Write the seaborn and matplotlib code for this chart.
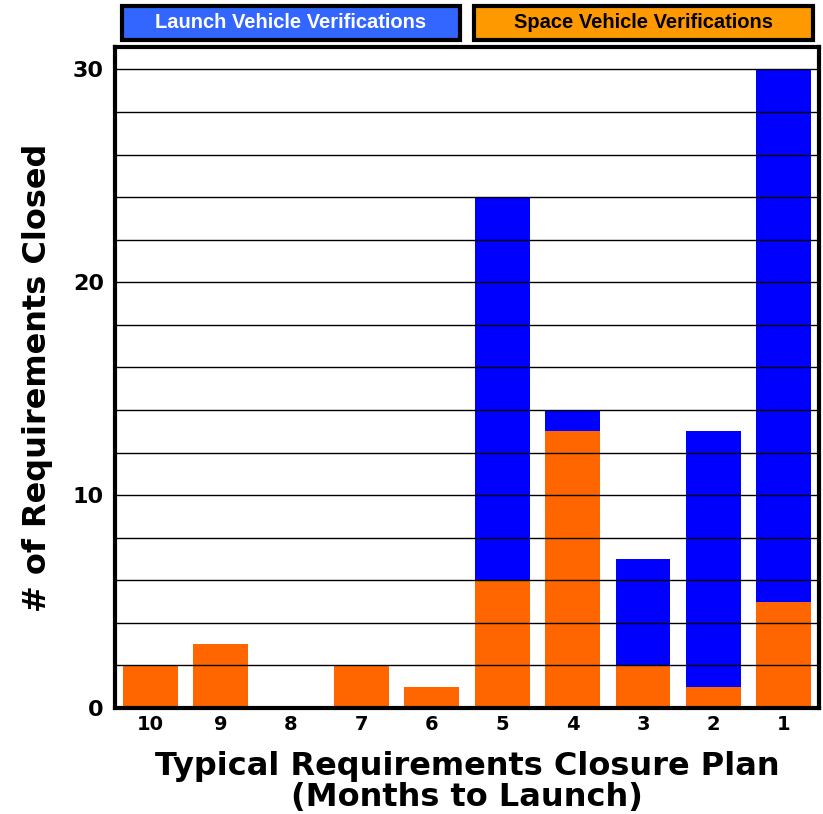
import matplotlib
matplotlib.use("Agg")
import matplotlib.pyplot as plt
import seaborn as sns
import pandas as pd
from matplotlib.patches import Rectangle

# Months to launch and requirements closed per month
months = ["10", "9", "8", "7", "6", "5", "4", "3", "2", "1"]
space_vehicle = [2, 3, 0, 2, 1, 6, 13, 2, 1, 5]
launch_vehicle = [0, 0, 0, 0, 0, 18, 1, 5, 12, 25]
legend_labels = ["Launch Vehicle Verifications", "Space Vehicle Verifications"]

df = pd.DataFrame({
    "month": months,
    "space": space_vehicle,
    "launch": launch_vehicle,
})
df["total"] = df["space"] + df["launch"]

sns.set_theme(style="white")
plt.rcParams["font.family"] = ["DejaVu Sans"]
for key in ["text.color", "axes.labelcolor", "xtick.color", "ytick.color"]:
    plt.rcParams[key] = "black"

fig = plt.figure(figsize=(8.23, 8.14), dpi=100)
ax = fig.add_axes([115 / 823, 1 - 708 / 814, 704 / 823, 661 / 814])

blue = "#0000FF"
orange = "#FF6600"

sns.barplot(data=df, x="month", y="total", order=months, color=blue,
            saturation=1, width=0.78, ax=ax, linewidth=0)
sns.barplot(data=df, x="month", y="space", order=months, color=orange,
            saturation=1, width=0.78, ax=ax, linewidth=0)

ax.set_ylim(0, 31.05)
ax.set_xlim(-0.5, 9.5)
ax.set_yticks([0, 10, 20, 30])
ax.set_yticks(range(2, 31, 2), minor=True)
ax.set_axisbelow(False)
ax.grid(False)
ax.yaxis.grid(True, which="minor", color="black", linewidth=1.0)
ax.yaxis.grid(True, which="major", color="black", linewidth=1.0)

ax.tick_params(axis="both", which="both", length=0)
ax.tick_params(axis="y", pad=8)
ax.tick_params(axis="x", pad=5)
for lbl in ax.get_yticklabels():
    lbl.set_fontsize(16)
    lbl.set_fontweight("bold")
for lbl in ax.get_xticklabels():
    lbl.set_fontsize(14)
    lbl.set_fontweight("bold")

for side in ["left", "right", "top", "bottom"]:
    ax.spines[side].set_visible(True)
    ax.spines[side].set_color("black")
    ax.spines[side].set_linewidth(3)

ax.set_ylabel("# of Requirements Closed", fontsize=23, fontweight="bold", labelpad=14)
ax.set_xlabel("Typical Requirements Closure Plan\n(Months to Launch)",
              fontsize=23, fontweight="bold", labelpad=12, linespacing=1.02)

# Legend boxes above the plot
boxes = [
    (122, 460, "#3366FF", "white", legend_labels[0]),
    (474, 813, "#FF9900", "black", legend_labels[1]),
]
for x0, x1, fc, tc, txt in boxes:
    fig.patches.append(Rectangle((x0 / 823, 1 - 40 / 814), (x1 - x0) / 823, 34 / 814,
                                 transform=fig.transFigure, facecolor=fc,
                                 edgecolor="black", linewidth=3))
    fig.text((x0 + x1) / 2 / 823, 1 - 22.5 / 814, txt, ha="center", va="center",
             color=tc, fontsize=14.5, fontweight="bold", family="Liberation Sans")

fig.savefig("out.png", dpi=100)
